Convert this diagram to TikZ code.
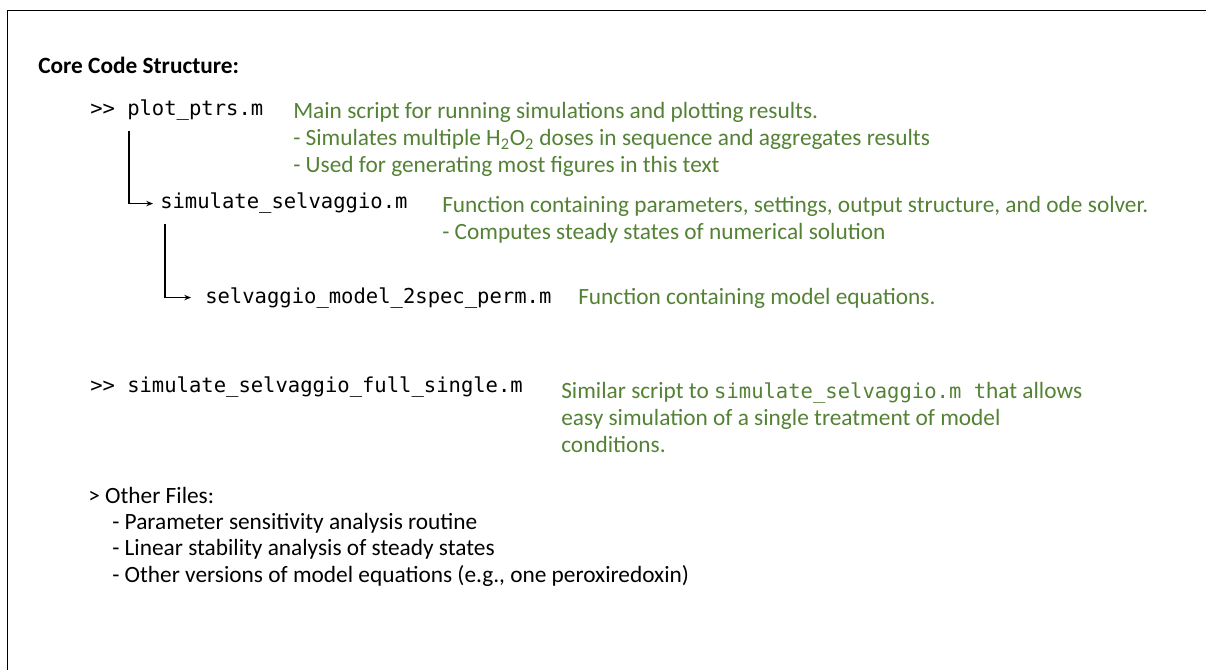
\documentclass[tikz,border=0pt]{standalone}
\usepackage{fontspec}
\setmainfont{Carlito}
\newfontfamily\codefont{DejaVu Sans Mono}
\usetikzlibrary{arrows.meta,positioning}
\definecolor{notegreen}{RGB}{84,130,53}
\newcommand{\code}[1]{{\codefont\fontsize{15.4}{18}\selectfont #1}}

\tikzset{
  txt/.style={anchor=base west, inner sep=0pt, font=\fontsize{17.5}{21}\selectfont},
  file/.style={txt, font=\codefont\fontsize{15.4}{18}\selectfont},
  note/.style={txt, text=notegreen},
  link/.style={line width=0.8pt, -{Stealth[length=5pt,width=4pt]}}
}

\begin{document}
\begin{tikzpicture}[x=0.75pt,y=-0.75pt]
  \useasboundingbox (0,0) rectangle (1206,670);
  % frame
  \draw[line width=1pt] (7.5,670) -- (7.5,10.7) -- (1206,10.7);

  \node[txt, font=\bfseries\fontsize{17.5}{21}\selectfont] (title) at (38,74) {Core Code Structure:};

  % main script
  \node[file] (prompt1) at (90,116) {>{}>};
  \node[file] (plotfile) at (127,116) {plot\_ptrs.m};
  \node[note] (plotnote1) at (293,119) {Main script for running simulations and plotting results.};
  \node[note] (plotnote2) at (293,146) {- Simulates multiple H\textsubscript{2}O\textsubscript{2} doses in sequence and aggregates results};
  \node[note] (plotnote3) at (293,173) {- Used for generating most figures in this text};

  % simulation function
  \node[file] (simfile) at (160,209) {simulate\_selvaggio.m};
  \node[note] (simnote1) at (442,213) {Function containing parameters, settings, output structure, and ode solver.};
  \node[note] (simnote2) at (442,240) {- Computes steady states of numerical solution};

  % model equations
  \node[file] (modelfile) at (205,303) {selvaggio\_model\_2spec\_perm.m};
  \node[note] (modelnote) at (578,305) {Function containing model equations.};

  % single treatment script
  \node[file] (prompt2) at (90,392) {>{}>};
  \node[file] (fullfile) at (127,392) {simulate\_selvaggio\_full\_single.m};
  \node[note] (fullnote1) at (561,398) {Similar script to \code{simulate\_selvaggio.m t}hat allows};
  \node[note] (fullnote2) at (561,425) {easy simulation of a single treatment of model};
  \node[note] (fullnote3) at (561,452) {conditions.};

  % other files
  \node[txt] (other) at (88,503) {> Other Files:};
  \node[txt] (other1) at (112,529) {- Parameter sensitivity analysis routine};
  \node[txt] (other2) at (112,555) {- Linear stability analysis of steady states};
  \node[txt] (other3) at (112,582) {- Other versions of model equations (e.g., one peroxiredoxin)};

  % call tree
  \draw[link] (plotfile.south west) ++(2,10) |- ([xshift=-5.25pt]simfile.west);
  \draw[link] (simfile.south west) ++(5,10) |- ([xshift=-10.5pt]modelfile.west);
\end{tikzpicture}
\end{document}
